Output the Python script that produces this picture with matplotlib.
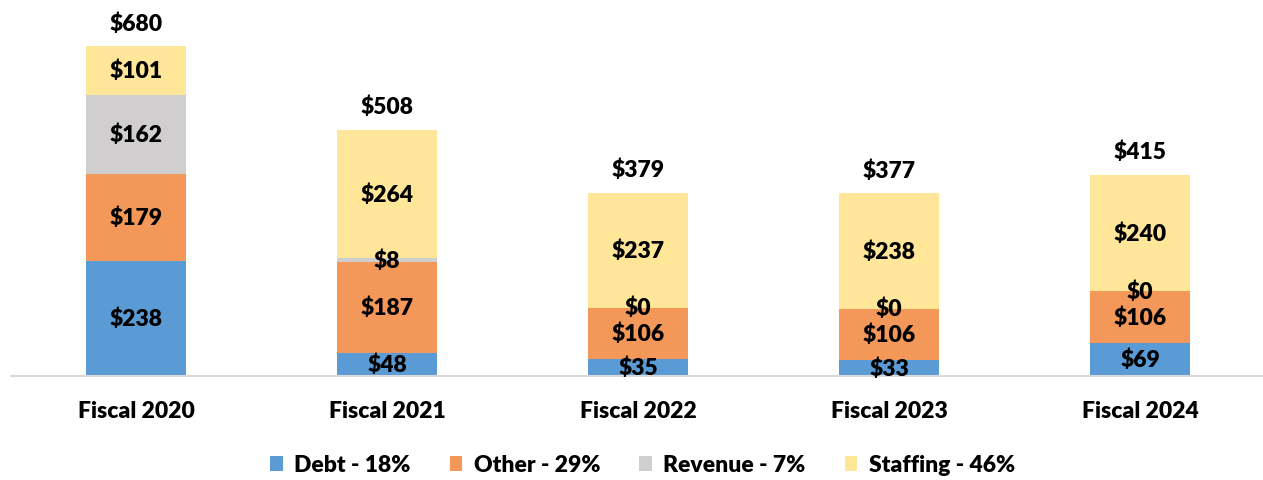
import matplotlib
matplotlib.use("Agg")
import matplotlib.pyplot as plt
import numpy as np

categories = ["Fiscal 2020", "Fiscal 2021", "Fiscal 2022", "Fiscal 2023", "Fiscal 2024"]
debt = [238, 48, 35, 33, 69]
other = [179, 187, 106, 106, 106]
revenue = [162, 8, 0, 0, 0]
staffing = [101, 264, 237, 238, 240]
totals = [680, 508, 379, 377, 415]
series_names = ["Debt - 18%", "Other - 29%", "Revenue - 7%", "Staffing - 46%"]
colors = ["#5b9bd5", "#f4985a", "#d0cece", "#ffe699"]

plt.rcParams['font.family'] = ['Lato', 'DejaVu Sans']

W, H = 1263, 481
fig = plt.figure(figsize=(W / 100, H / 100), dpi=100)
ax_left = 11 / W
ax_bottom = 1 - 377 / H
ax = fig.add_axes([ax_left, ax_bottom, 1 - ax_left, 1 - ax_bottom])

x = np.arange(len(categories))
series = [debt, other, revenue, staffing]
bottom = np.zeros(len(categories))
handles = []
for vals, name, col in zip(series, series_names, colors):
    v = np.array(vals, dtype=float)
    b = ax.bar(x, v, 0.4, bottom=bottom, color=col, label=name, zorder=2)
    handles.append(b)
    for xi, vi, bi in zip(x, v, bottom):
        ax.text(xi, bi + vi / 2, f"${int(vi)}", ha="center", va="center",
                fontsize=16.5, fontweight="heavy", color="black", zorder=3)
    bottom = bottom + v

for xi, t in zip(x, totals):
    ax.text(xi, t + 26, f"${t}", ha="center", va="bottom",
            fontsize=16.5, fontweight="heavy", color="black")

ax.set_xlim((11 - 136) / 251, (W - 136) / 251)
ax.set_ylim(0, 377 / 0.485)
for s in ["top", "right", "left"]:
    ax.spines[s].set_visible(False)
ax.spines["bottom"].set_color("#d9d9d9")
ax.spines["bottom"].set_linewidth(1.5)
ax.set_yticks([])
ax.set_xticks(x)
ax.set_xticklabels(categories, fontsize=16.5, fontweight="heavy")
ax.tick_params(axis="x", length=0, pad=17)

leg = fig.legend(handles=handles, labels=series_names, loc="center",
                 bbox_to_anchor=(0.5 + 11 / W, 1 - 466 / H), ncol=4, frameon=False,
                 prop={"size": 16.5, "weight": "heavy"}, handlelength=0.55,
                 handleheight=0.65, handletextpad=0.5, columnspacing=1.7)

fig.savefig("out.png", dpi=100)
